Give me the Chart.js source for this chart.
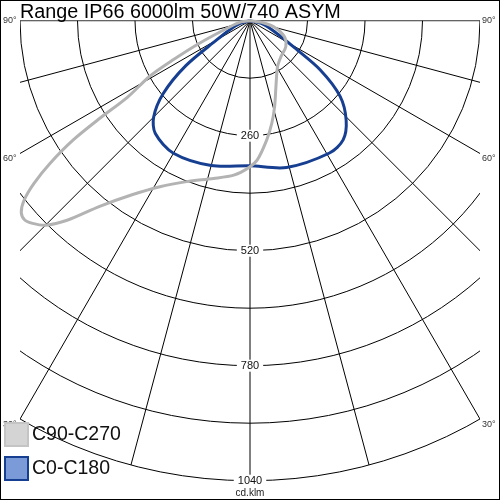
<!DOCTYPE html>
<html>
<head>
<meta charset="utf-8">
<script src="https://cdn.jsdelivr.net/npm/chart.js@4.4.0/dist/chart.umd.min.js"></script>
<style>
  html, body { margin: 0; padding: 0; background: #fff; }
  #wrap { width: 500px; height: 500px; position: relative; }
</style>
</head>
<body>
<div id="wrap"><canvas id="ldc" width="500" height="500"></canvas></div>
<script>
// ==============================
// Data (angles in degrees from nadir, left side negative; values in cd/klm)
// ==============================
const chartTitle = "Range IP66 6000lm 50W/740 ASYM";
const unitLabel = "cd.klm";
const ringValues = [130, 260, 390, 520, 650, 780, 910, 1040];
const ringLabels = [260, 520, 780, 1040];
const spokeAngles = [-90, -75, -60, -45, -30, -15, 0, 15, 30, 45, 60, 75, 90];
const angleLabels = [90, 60, 30];
const seriesNames = ["C90-C270", "C0-C180"];

const c90Angles = [-90, -82, -73, -66, -63, -61, -58, -57, -56, -54.5, -53, -51.5, -50, -48.5, -47, -45, -42.5, -39, -34, -28.5, -21.5, -13, -6, -1, 3, 8, 12, 16, 21.5, 31, 41, 54, 65, 74, 81, 90];
const c90Values = [0, 20, 47, 124, 195, 259, 327, 403, 482, 555, 612, 653, 675, 680, 672, 654, 612, 540, 474, 427, 391, 366, 351, 334, 315, 272, 237, 202, 160, 121, 107, 100, 86, 61, 30, 0];

const c0Angles = [-90, -75, -66, -60, -55, -50, -45, -40, -30, -15, 0, 14, 31, 38, 44, 50, 55, 59, 66, 75, 90];
const c0Values = [0, 23, 50, 87, 177, 256, 308, 333, 346, 339, 328, 342, 349, 342, 313, 266, 194, 114, 60, 30, 0];

// ==============================
// Polar -> cartesian helper
// ==============================
function toXY(angles, values) {
  return angles.map((a, i) => {
    const t = a * Math.PI / 180;
    return { x: values[i] * Math.sin(t), y: -values[i] * Math.cos(t) };
  });
}

const maxRing = ringValues[ringValues.length - 1];
const pxPerCd = 460 / maxRing;
const centerPx = { x: 250, y: 20.7 };

// ==============================
// Grid, labels, legend
// ==============================
const polarGrid = {
  id: "polarGrid",
  beforeDatasetsDraw(chart) {
    const ctx = chart.ctx;
    const xs = chart.scales.x, ys = chart.scales.y;
    const cx = xs.getPixelForValue(0), cy = ys.getPixelForValue(0);
    const R = xs.getPixelForValue(maxRing) - cx;
    const half = R / 2;

    ctx.save();
    ctx.beginPath();
    ctx.rect(cx - half, cy - 0.5, 2 * half, R + 1.5);
    ctx.clip();
    ctx.strokeStyle = "#000";
    ctx.lineWidth = 1;
    ringValues.forEach(v => {
      const r = xs.getPixelForValue(v) - cx;
      ctx.beginPath();
      ctx.arc(cx, cy, r, 0, Math.PI);
      ctx.stroke();
    });
    spokeAngles.forEach(a => {
      const t = a * Math.PI / 180;
      ctx.beginPath();
      ctx.moveTo(cx, cy);
      ctx.lineTo(xs.getPixelForValue(maxRing * Math.sin(t)), ys.getPixelForValue(-maxRing * Math.cos(t)));
      ctx.stroke();
    });
    ctx.restore();

    // ring labels on the nadir line
    ctx.save();
    ctx.font = "11px 'Liberation Sans', Arial, sans-serif";
    ctx.textAlign = "center";
    ctx.textBaseline = "middle";
    ringLabels.forEach(v => {
      const y = ys.getPixelForValue(-v);
      const w = ctx.measureText(String(v)).width + 8;
      ctx.fillStyle = "#fff";
      ctx.fillRect(cx - w / 2, y - 6, w, 12);
      ctx.fillStyle = "#111";
      ctx.fillText(String(v), cx, y);
    });
    ctx.font = "10px 'Liberation Sans', Arial, sans-serif";
    ctx.fillStyle = "#222";
    ctx.fillText(unitLabel, cx, cy + R + 13);

    // angle labels at the side edges
    ctx.font = "9px 'Liberation Sans', Arial, sans-serif";
    ctx.fillStyle = "#333";
    ctx.textAlign = "left";
    angleLabels.forEach(a => {
      const t = a * Math.PI / 180;
      const y = cy + half * Math.cos(t) / Math.sin(t) + (a < 90 ? 5 : 0);
      ctx.fillText(a + "°", 3, y);
      ctx.fillText(a + "°", cx + half + 2, y);
    });
    ctx.restore();
  },
  afterDraw(chart) {
    const ctx = chart.ctx;
    const xs = chart.scales.x;
    const cx = xs.getPixelForValue(0);
    const half = (xs.getPixelForValue(maxRing) - cx) / 2;

    ctx.save();
    // title
    ctx.font = "19px 'Liberation Sans', Arial, sans-serif";
    const tw = ctx.measureText(chartTitle).width;
    const fs = 19 * 321 / tw;
    ctx.font = fs.toFixed(2) + "px 'Liberation Sans', Arial, sans-serif";
    ctx.fillStyle = "#000";
    ctx.textBaseline = "alphabetic";
    ctx.textAlign = "left";
    ctx.fillText(chartTitle, cx - half, 18);

    // legend
    const boxes = [
      { y: 423, fill: "#d4d4d4", stroke: "#c4c4c4" },
      { y: 457, fill: "#7b9bd8", stroke: "#173f91" }
    ];
    ctx.font = "19.5px 'Liberation Sans', Arial, sans-serif";
    ctx.textBaseline = "middle";
    boxes.forEach((b, i) => {
      ctx.fillStyle = b.fill;
      ctx.fillRect(5, b.y, 23, 23);
      ctx.strokeStyle = b.stroke;
      ctx.lineWidth = 2;
      ctx.strokeRect(5, b.y, 23, 23);
      ctx.fillStyle = "#111";
      ctx.fillText(seriesNames[i], 32, b.y + 12);
    });

    // frame
    ctx.strokeStyle = "#000";
    ctx.lineWidth = 1;
    ctx.strokeRect(0.5, 0.5, 499, 499);
    ctx.restore();
  }
};

new Chart(document.getElementById("ldc"), {
  type: "scatter",
  data: {
    datasets: [
      { label: seriesNames[0], data: toXY(c90Angles, c90Values), showLine: true, borderColor: "#b3b3b3", borderWidth: 3, pointRadius: 0, tension: 0.3, fill: false },
      { label: seriesNames[1], data: toXY(c0Angles, c0Values), showLine: true, borderColor: "#173f91", borderWidth: 3, pointRadius: 0, tension: 0.3, fill: false }
    ]
  },
  options: {
    responsive: false,
    animation: false,
    devicePixelRatio: 1,
    layout: { padding: 0 },
    plugins: { legend: { display: false }, tooltip: { enabled: false }, title: { display: false } },
    scales: {
      x: { type: "linear", display: false, min: -250 / pxPerCd, max: 250 / pxPerCd },
      y: { type: "linear", display: false, min: -(500 - centerPx.y) / pxPerCd, max: centerPx.y / pxPerCd }
    }
  },
  plugins: [polarGrid]
});
</script>
</body>
</html>
